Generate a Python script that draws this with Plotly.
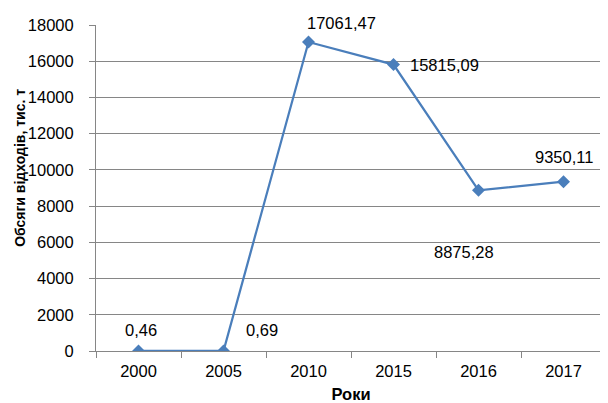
import plotly.graph_objects as go

years = ["2000", "2005", "2010", "2015", "2016", "2017"]
values = [0.46, 0.69, 17061.47, 15815.09, 8875.28, 9350.11]
labels = ["0,46", "0,69", "17061,47", "15815,09", "8875,28", "9350,11"]
# label offsets in pixels (x, y) relative to each point
label_dx = [2, 38, 33, 51, -15, 0]
label_dy = [21, 21, 19, 0, -62, 25]

line_color = "#4A7EBB"
grid_color = "#868686"
font_family = "Liberation Sans, Arial, sans-serif"
fs = 16.5

fig = go.Figure()
fig.add_trace(go.Scatter(
    x=years, y=values, mode="lines+markers",
    line=dict(color=line_color, width=2.25),
    marker=dict(symbol="diamond", size=10, color=line_color),
    showlegend=False, hoverinfo="skip",
))

for i, (y, t, dx, dy) in enumerate(zip(values, labels, label_dx, label_dy)):
    fig.add_annotation(x=i, y=y, text=t, showarrow=False,
                       xshift=dx, yshift=dy,
                       font=dict(family=font_family, size=fs, color="#000000"))

# y-axis title (positioned like the original, above the axis centre)
fig.add_annotation(xref="paper", yref="paper", x=0, y=0.562, xshift=-76,
                   text="<b>Обсяги відходів, тис. т</b>", textangle=-90,
                   showarrow=False, xanchor="center", yanchor="middle",
                   font=dict(family=font_family, size=14, color="#000000"))

fig.update_layout(
    width=600, height=395,
    margin=dict(l=88, r=2, t=17, b=52),
    paper_bgcolor="white", plot_bgcolor="white",
    font=dict(family=font_family, size=fs, color="#000000"),
    xaxis=dict(
        type="category", range=[-0.5, 5.5], tickson="boundaries",
        ticks="outside", ticklen=6, automargin=False, ticklabelstandoff=5,
        tickcolor=grid_color, showline=True, linecolor=grid_color, linewidth=1,
        showgrid=False, tickangle=0,
        title=dict(text="<b>Роки</b>", font=dict(size=fs), standoff=11),
    ),
    yaxis=dict(
        range=[0, 18000], dtick=2000, tickformat="d", ticks="outside", ticklen=6,
        automargin=False, ticklabelstandoff=12,
        tickcolor=grid_color, showline=True, linecolor=grid_color, linewidth=1,
        showgrid=True, gridcolor=grid_color, gridwidth=1, zeroline=False,
    ),
)

fig.write_html("out.html")
